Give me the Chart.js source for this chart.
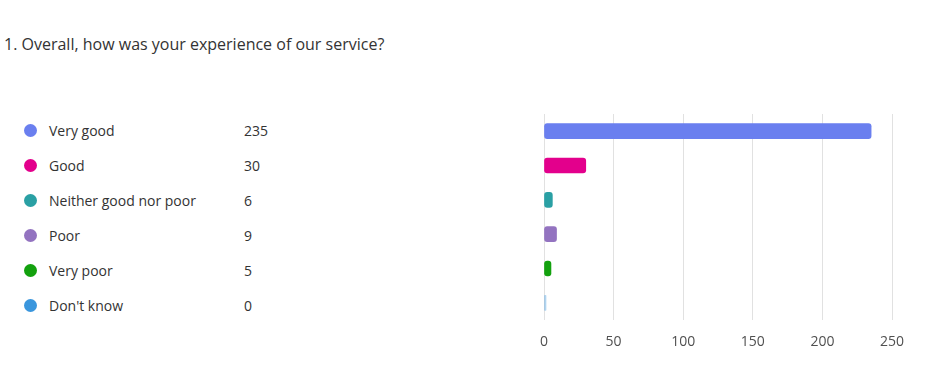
<!DOCTYPE html>
<html>
<head>
<meta charset="utf-8">
<script src="https://cdn.jsdelivr.net/npm/chart.js@4/dist/chart.umd.min.js"></script>
<style>
  html, body { margin: 0; padding: 0; background: #fff; }
  body { width: 925px; height: 366px; position: relative; overflow: hidden;
         font-family: "Open Sans", "Noto Sans", sans-serif; color: #333; }
  #title { position: absolute; left: 4px; top: 33px; font-size: 16px; color: #333; white-space: nowrap; }
  #legend { position: absolute; left: 0; top: 114px; }
  .row { position: absolute; left: 0; height: 35px; width: 300px; }
  .dot { position: absolute; left: 24px; top: 10px; width: 13px; height: 13px; border-radius: 50%; }
  .lbl { position: absolute; left: 49px; top: 7px; font-size: 14px; white-space: nowrap; }
  .val { position: absolute; left: 244px; top: 7px; font-size: 14px; }
  #wrap { position: absolute; left: 0; top: 0; width: 925px; height: 366px; }
</style>
</head>
<body>
<div id="title">1. Overall, how was your experience of our service?</div>
<div id="legend"></div>
<div id="wrap"><canvas id="c"></canvas></div>
<script>
const categories = ["Very good", "Good", "Neither good nor poor", "Poor", "Very poor", "Don't know"];
const counts = [235, 30, 6, 9, 5, 0];
const colors = ["#6A7FEF", "#E3008C", "#2AA0A4", "#9373C0", "#13A10E", "#3A96DD"];
const xTicks = [0, 50, 100, 150, 200, 250];

const legend = document.getElementById('legend');
categories.forEach((c, i) => {
  const row = document.createElement('div');
  row.className = 'row';
  row.style.top = (i * 35) + 'px';
  row.innerHTML = '<span class="dot" style="background:' + colors[i] + '"></span>' +
    '<span class="lbl"></span><span class="val"></span>';
  row.querySelector('.lbl').textContent = c;
  row.querySelector('.val').textContent = counts[i];
  legend.appendChild(row);
});

const barColors = counts.map((v, i) => v === 0 ? colors[i] + '66' : colors[i]);

new Chart(document.getElementById('c'), {
  type: 'bar',
  data: {
    labels: categories,
    datasets: [{
      data: counts,
      backgroundColor: barColors,
      borderWidth: 0,
      borderRadius: 3,
      borderSkipped: false,
      barThickness: 15,
      minBarLength: 2
    }]
  },
  options: {
    indexAxis: 'y',
    responsive: true,
    maintainAspectRatio: false,
    animation: false,
    layout: { padding: { left: 544, right: 33, top: 114, bottom: 0 } },
    plugins: { legend: { display: false }, tooltip: { enabled: false } },
    scales: {
      x: {
        min: 0, max: 250,
        afterBuildTicks: (s) => { s.ticks = xTicks.map(v => ({ value: v })); },
        afterFit: (s) => { s.height = 46; },
        grid: { color: '#e1e1e1', drawTicks: false },
        border: { display: false },
        ticks: { color: '#505050', padding: 14, font: { family: '"Open Sans", "Noto Sans", sans-serif', size: 14 } }
      },
      y: { display: false }
    }
  }
});
</script>
</body>
</html>
